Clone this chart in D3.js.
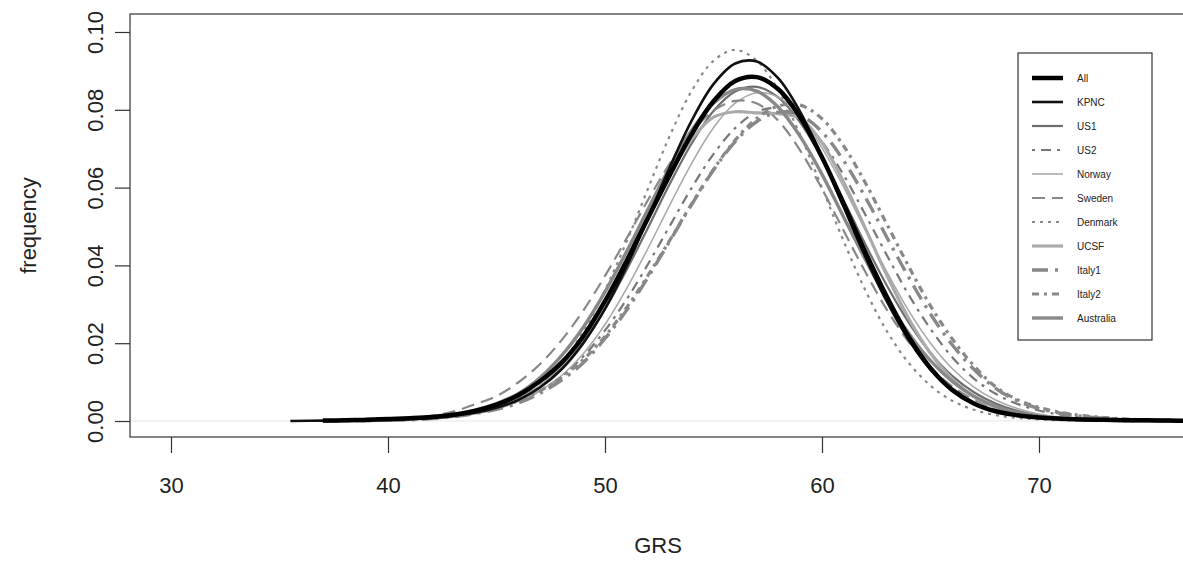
<!DOCTYPE html>
<html lang="en">
<head>
  <meta charset="UTF-8" />
  <title>GRS frequency by cohort</title>
  <style>
    body { margin: 0; background: #fff; }
    svg { display: block; font-family: "Liberation Sans", Arial, sans-serif; }
  </style>
</head>
<body>
  <svg id="chart"></svg>

  <script src="https://d3js.org/d3.v7.min.js"></script>
  <script>
    const fullWidth = 1183, fullHeight = 563;

    // GRS grid the densities are read at (first point only used by KPNC)
    const grs = [35.5, 37, 38, 39, 40, 41, 42, 43, 44, 45, 46, 47, 48, 49, 50, 51, 52, 53, 54, 55, 56,
                 57, 58, 59, 60, 61, 62, 63, 64, 65, 66, 67, 68, 69, 70, 71, 72, 73, 74, 75, 76, 77];

    const cohorts = ["All", "KPNC", "US1", "US2", "Norway", "Sweden", "Denmark", "UCSF", "Italy1", "Italy2", "Australia"];

    const allFreq = [null,
      0.0001, 0.0002, 0.0003, 0.0005, 0.0007, 0.0010, 0.0016, 0.0026, 0.0042, 0.0066,
      0.0102, 0.0150, 0.0218, 0.0308, 0.0412, 0.0524, 0.0634, 0.0738, 0.0822, 0.0874,
      0.0884, 0.0852, 0.0780, 0.0678, 0.0558, 0.0434, 0.0318, 0.0216, 0.0136, 0.0080,
      0.0045, 0.0025, 0.0015, 0.0009, 0.0006, 0.0004, 0.0003, 0.0002, 0.0002, 0.0001, 0.0001];
    const kpncFreq = [0.0000,
      0.0001, 0.0001, 0.0002, 0.0003, 0.0005, 0.0008, 0.0013, 0.0021, 0.0034, 0.0054,
      0.0086, 0.0133, 0.0200, 0.0288, 0.0398, 0.0524, 0.0654, 0.0773, 0.0866, 0.0919,
      0.0924, 0.0880, 0.0794, 0.0679, 0.0550, 0.0422, 0.0306, 0.0208, 0.0132, 0.0078,
      0.0044, 0.0025, 0.0014, 0.0008, 0.0005, 0.0003, 0.0002, 0.0001, 0.0001, 0.0001, 0.0000];
    const us1Freq = [null,
      0.0001, 0.0001, 0.0002, 0.0003, 0.0005, 0.0008, 0.0014, 0.0024, 0.0038, 0.0060,
      0.0089, 0.0138, 0.0204, 0.0288, 0.0389, 0.0499, 0.0611, 0.0714, 0.0797, 0.0847,
      0.0859, 0.0831, 0.0767, 0.0675, 0.0567, 0.0454, 0.0347, 0.0253, 0.0175, 0.0116,
      0.0074, 0.0045, 0.0026, 0.0014, 0.0008, 0.0005, 0.0003, 0.0002, 0.0001, 0.0001, 0.0000];
    const us2Freq = [null,
      0.0000, 0.0001, 0.0001, 0.0002, 0.0004, 0.0007, 0.0013, 0.0022, 0.0034, 0.0052,
      0.0078, 0.0115, 0.0166, 0.0233, 0.0313, 0.0405, 0.0503, 0.0600, 0.0686, 0.0753,
      0.0795, 0.0804, 0.0778, 0.0718, 0.0632, 0.0530, 0.0425, 0.0324, 0.0237, 0.0164,
      0.0109, 0.0070, 0.0044, 0.0027, 0.0016, 0.0010, 0.0006, 0.0003, 0.0002, 0.0001, 0.0001];
    const norwayFreq = [null,
      0.0000, 0.0001, 0.0001, 0.0002, 0.0004, 0.0007, 0.0012, 0.0020, 0.0032, 0.0050,
      0.0077, 0.0117, 0.0173, 0.0248, 0.0341, 0.0446, 0.0557, 0.0663, 0.0754, 0.0817,
      0.0844, 0.0832, 0.0783, 0.0702, 0.0601, 0.0490, 0.0382, 0.0283, 0.0200, 0.0135,
      0.0087, 0.0054, 0.0032, 0.0018, 0.0010, 0.0006, 0.0003, 0.0002, 0.0001, 0.0001, 0.0000];
    const swedenFreq = [null,
      0.0001, 0.0002, 0.0003, 0.0005, 0.0008, 0.0013, 0.0024, 0.0043, 0.0064, 0.0099,
      0.0146, 0.0208, 0.0284, 0.0373, 0.0470, 0.0570, 0.0663, 0.0742, 0.0798, 0.0823,
      0.0816, 0.0771, 0.0695, 0.0597, 0.0489, 0.0383, 0.0285, 0.0203, 0.0138, 0.0089,
      0.0055, 0.0033, 0.0019, 0.0011, 0.0006, 0.0004, 0.0002, 0.0001, 0.0001, 0.0000, 0.0000];
    const denmarkFreq = [null,
      0.0000, 0.0001, 0.0001, 0.0002, 0.0004, 0.0007, 0.0012, 0.0020, 0.0033, 0.0055,
      0.0091, 0.0149, 0.0230, 0.0336, 0.0462, 0.0600, 0.0735, 0.0849, 0.0926, 0.0954,
      0.0926, 0.0849, 0.0735, 0.0600, 0.0462, 0.0336, 0.0230, 0.0149, 0.0091, 0.0052,
      0.0029, 0.0015, 0.0008, 0.0004, 0.0002, 0.0001, 0.0001, 0.0000, 0.0000, 0.0000, 0.0000];
    const ucsfFreq = [null,
      0.0000, 0.0001, 0.0001, 0.0002, 0.0004, 0.0007, 0.0012, 0.0020, 0.0033, 0.0055,
      0.0088, 0.0142, 0.0215, 0.0306, 0.0414, 0.0528, 0.0636, 0.0725, 0.0781, 0.0795,
      0.0792, 0.0790, 0.0778, 0.0715, 0.0614, 0.0495, 0.0373, 0.0263, 0.0174, 0.0108,
      0.0062, 0.0035, 0.0019, 0.0010, 0.0005, 0.0003, 0.0002, 0.0001, 0.0000, 0.0000, 0.0000];
    const italy1Freq = [null,
      0.0000, 0.0001, 0.0001, 0.0002, 0.0003, 0.0006, 0.0011, 0.0019, 0.0030, 0.0046,
      0.0071, 0.0105, 0.0150, 0.0212, 0.0285, 0.0371, 0.0464, 0.0557, 0.0645, 0.0718,
      0.0770, 0.0794, 0.0786, 0.0743, 0.0669, 0.0575, 0.0471, 0.0369, 0.0275, 0.0196,
      0.0133, 0.0084, 0.0052, 0.0032, 0.0020, 0.0012, 0.0007, 0.0004, 0.0003, 0.0002, 0.0001];
    const italy2Freq = [null,
      0.0000, 0.0001, 0.0001, 0.0002, 0.0004, 0.0007, 0.0012, 0.0022, 0.0034, 0.0052,
      0.0077, 0.0112, 0.0158, 0.0218, 0.0292, 0.0376, 0.0466, 0.0559, 0.0647, 0.0722,
      0.0778, 0.0810, 0.0812, 0.0777, 0.0707, 0.0612, 0.0505, 0.0397, 0.0296, 0.0211,
      0.0142, 0.0088, 0.0055, 0.0035, 0.0022, 0.0014, 0.0009, 0.0005, 0.0003, 0.0002, 0.0001];
    const australiaFreq = [null,
      0.0001, 0.0001, 0.0002, 0.0004, 0.0006, 0.0010, 0.0017, 0.0028, 0.0045, 0.0070,
      0.0111, 0.0168, 0.0241, 0.0332, 0.0436, 0.0546, 0.0654, 0.0748, 0.0817, 0.0852,
      0.0848, 0.0806, 0.0731, 0.0634, 0.0524, 0.0415, 0.0312, 0.0225, 0.0155, 0.0102,
      0.0064, 0.0038, 0.0022, 0.0012, 0.0007, 0.0004, 0.0002, 0.0001, 0.0001, 0.0000, 0.0000];

    const freqs = [allFreq, kpncFreq, us1Freq, us2Freq, norwayFreq, swedenFreq,
                   denmarkFreq, ucsfFreq, italy1Freq, italy2Freq, australiaFreq];

    const xTicks = [30, 40, 50, 60, 70];
    const yTicks = [0, 0.02, 0.04, 0.06, 0.08, 0.10];

    // line look per cohort (same order as cohorts)
    const styles = [
      { color: "#000",    width: 4.5, dash: null },
      { color: "#111",    width: 2.6, dash: null },
      { color: "#6e6e6e", width: 2.2, dash: null },
      { color: "#777",    width: 2.2, dash: "3,6,10,6" },
      { color: "#aaa",    width: 1.6, dash: null },
      { color: "#888",    width: 2.2, dash: "13,7" },
      { color: "#888",    width: 2.2, dash: "3,5" },
      { color: "#aaa",    width: 3.2, dash: null },
      { color: "#888",    width: 3.4, dash: "16,7,3,7" },
      { color: "#888",    width: 3.2, dash: "7,5,3,5" },
      { color: "#888",    width: 3.4, dash: null }
    ];

    const box = { left: 130, right: 1186, top: 14, bottom: 437 };

    const x = d3.scaleLinear().domain([30, 70]).range([171, 1039]);
    const y = d3.scaleLinear().domain([0, 0.1]).range([421, 32]);

    const svg = d3.select("#chart")
      .attr("width", fullWidth)
      .attr("height", fullHeight);

    svg.append("rect").attr("width", fullWidth).attr("height", fullHeight).attr("fill", "#fff");

    svg.append("defs").append("clipPath").attr("id", "plotClip")
      .append("rect")
      .attr("x", box.left).attr("y", box.top)
      .attr("width", box.right - box.left).attr("height", box.bottom - box.top);

    // faint zero line
    svg.append("line")
      .attr("x1", box.left).attr("x2", box.right)
      .attr("y1", y(0)).attr("y2", y(0))
      .attr("stroke", "#e6e6e6").attr("stroke-width", 1);

    const line = d3.line()
      .defined(d => d.f != null)
      .x(d => x(d.g))
      .y(d => y(d.f))
      .curve(d3.curveCatmullRom.alpha(0.5));

    // grey cohorts first, then KPNC and All on top
    const drawOrder = [2, 3, 4, 5, 6, 7, 8, 9, 10, 1, 0];
    const curves = svg.append("g").attr("clip-path", "url(#plotClip)");
    drawOrder.forEach(i => {
      const pts = grs.map((g, j) => ({ g, f: freqs[i][j] }));
      curves.append("path")
        .datum(pts)
        .attr("d", line)
        .attr("fill", "none")
        .attr("stroke", styles[i].color)
        .attr("stroke-width", styles[i].width)
        .attr("stroke-dasharray", styles[i].dash)
        .attr("stroke-linejoin", "round");
    });

    // plot frame
    svg.append("rect")
      .attr("x", box.left).attr("y", box.top)
      .attr("width", box.right - box.left).attr("height", box.bottom - box.top)
      .attr("fill", "none").attr("stroke", "#333").attr("stroke-width", 1.2);

    // x axis
    const xAxis = svg.append("g")
      .attr("transform", `translate(0,${box.bottom})`)
      .call(d3.axisBottom(x).tickValues(xTicks).tickSize(16).tickPadding(24));
    xAxis.select(".domain").remove();
    xAxis.selectAll("line").attr("stroke", "#333").attr("stroke-width", 1.2);
    xAxis.selectAll("text").attr("font-size", 22).attr("fill", "#222")
      .attr("font-family", "'Liberation Sans', Arial, sans-serif");

    // y axis, labels turned like R's default
    const yAxis = svg.append("g")
      .attr("transform", `translate(${box.left},0)`)
      .call(d3.axisLeft(y).tickValues(yTicks).tickSize(15).tickFormat(d3.format(".2f")));
    yAxis.select(".domain").remove();
    yAxis.selectAll("line").attr("stroke", "#333").attr("stroke-width", 1.2);
    yAxis.selectAll("text")
      .attr("font-size", 22).attr("fill", "#222")
      .attr("font-family", "'Liberation Sans', Arial, sans-serif")
      .attr("x", null).attr("dy", null)
      .attr("text-anchor", "middle")
      .attr("transform", "translate(-27,0) rotate(-90)");

    svg.append("text")
      .attr("x", (box.left + box.right) / 2).attr("y", 553)
      .attr("text-anchor", "middle").attr("font-size", 22).attr("fill", "#222")
      .text("GRS");

    svg.append("text")
      .attr("transform", `translate(36,${(box.top + box.bottom) / 2}) rotate(-90)`)
      .attr("text-anchor", "middle").attr("font-size", 22).attr("fill", "#222")
      .text("frequency");

    // legend
    const legend = svg.append("g").attr("transform", "translate(1018,53)");
    legend.append("rect")
      .attr("width", 134).attr("height", 287)
      .attr("fill", "#fff").attr("stroke", "#333").attr("stroke-width", 1.2);
    const item = legend.selectAll("g.item")
      .data(cohorts)
      .join("g")
      .attr("class", "item")
      .attr("transform", (d, i) => `translate(0,${25 + i * 24})`);
    item.append("line")
      .attr("x1", 14).attr("x2", 45)
      .attr("stroke", (d, i) => styles[i].color)
      .attr("stroke-width", (d, i) => styles[i].width)
      .attr("stroke-dasharray", (d, i) => styles[i].dash);
    item.append("text")
      .attr("x", 59).attr("dy", "0.35em")
      .attr("font-size", 10).attr("fill", "#222")
      .text(d => d);
  </script>
</body>
</html>
